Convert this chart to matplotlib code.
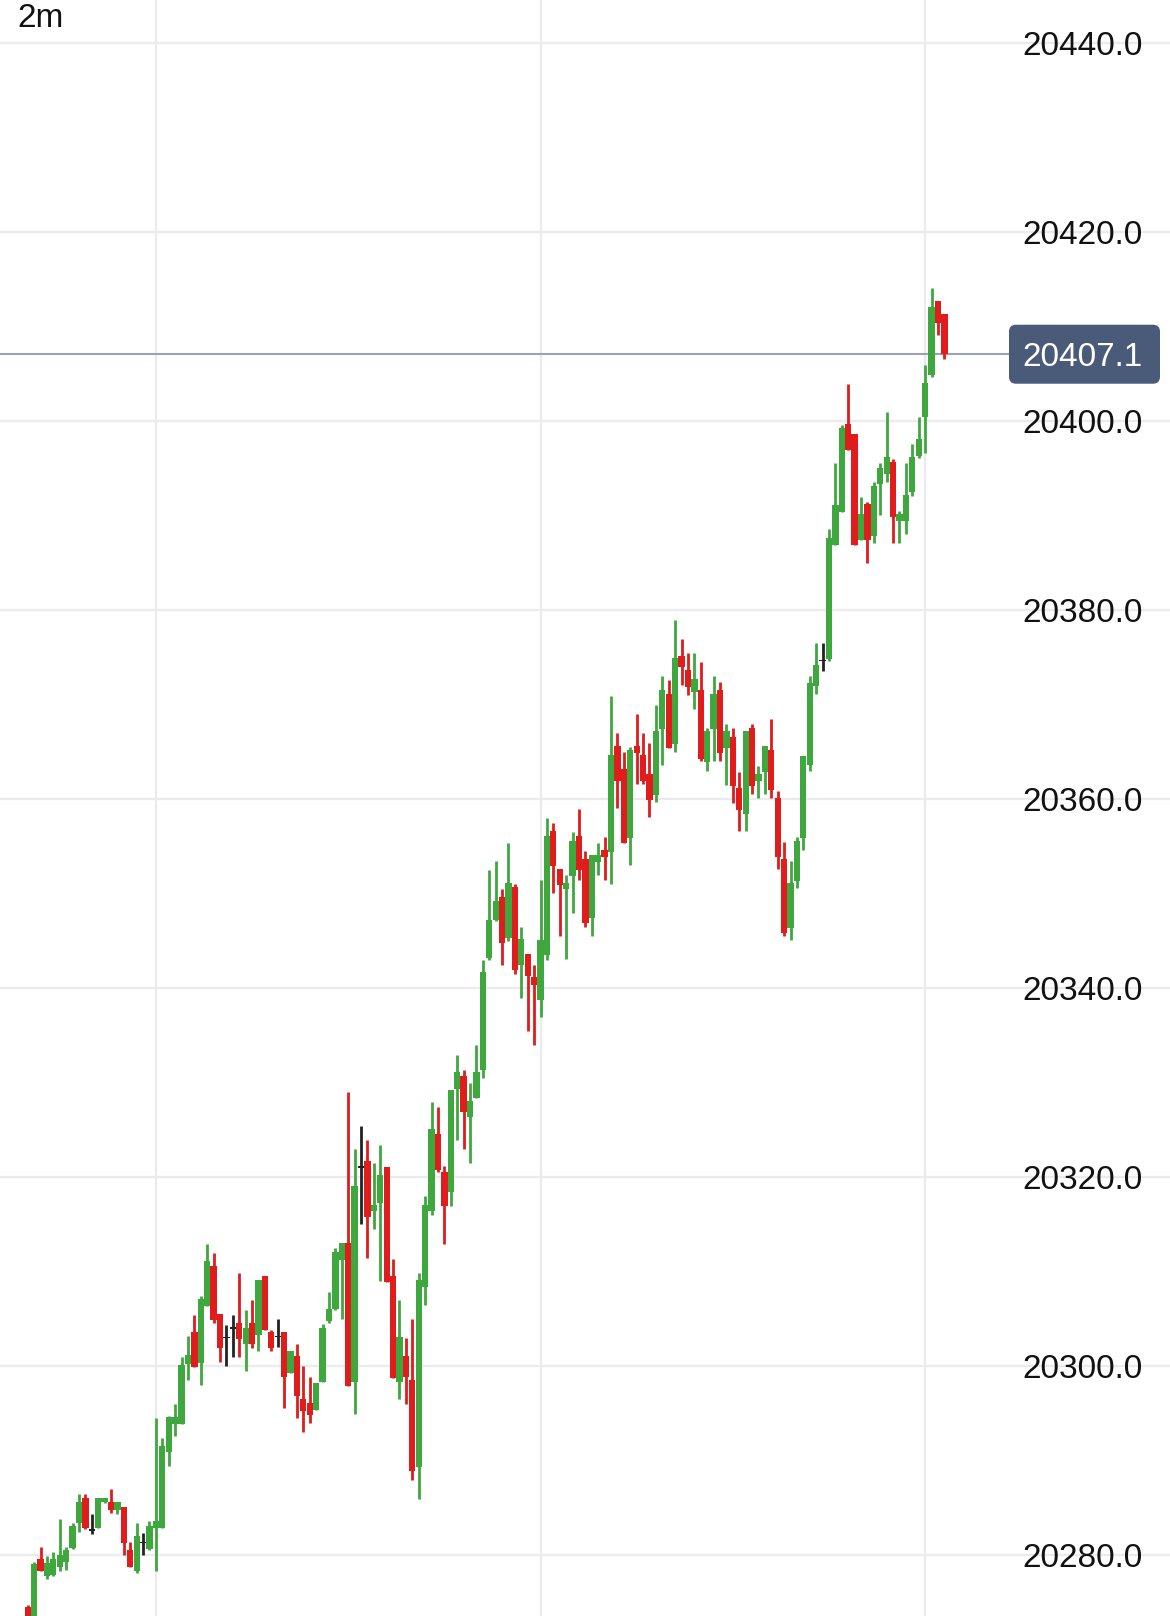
import matplotlib
matplotlib.use("Agg")
import numpy as np
import matplotlib.pyplot as plt
from matplotlib.transforms import blended_transform_factory
from matplotlib.patches import FancyBboxPatch

# ---------------- data (2-minute candles) ----------------
opens = [20274.5, 20272.0, 20279.6, 20277.8, 20277.9, 20278.8, 20279.3, 20280.8, 20283.4, 20286.1,
         20282.6, 20282.9, 20285.7, 20285.7, 20284.8, 20285.1, 20280.6, 20278.4, 20281.3, 20280.7,
         20282.9, 20282.9, 20290.9, 20293.9, 20293.9, 20300.3, 20303.6, 20300.4, 20306.4, 20310.6,
         20305.5, 20303.0, 20304.0, 20304.6, 20302.4, 20304.6, 20303.3, 20309.6, 20303.6, 20303.1,
         20303.6, 20299.3, 20301.1, 20296.6, 20296.1, 20295.4, 20298.4, 20304.8, 20306.1, 20311.3,
         20313.1, 20298.4, 20321.0, 20321.7, 20316.4, 20317.3, 20321.1, 20309.6, 20298.4, 20301.1,
         20298.6, 20289.4, 20308.4, 20316.4, 20324.6, 20320.6, 20318.5, 20329.4, 20330.7, 20326.4,
         20328.4, 20331.4, 20343.2, 20347.2, 20349.7, 20345.3, 20350.7, 20342.5, 20343.6, 20341.2,
         20338.8, 20343.5, 20356.7, 20352.6, 20350.5, 20351.9, 20356.1, 20353.7, 20347.4, 20353.4,
         20354.6, 20354.4, 20365.6, 20363.2, 20355.9, 20365.65, 20364.7, 20362.7, 20360.5, 20367.4,
         20371.2, 20365.9, 20375.2, 20373.7, 20371.4, 20371.6, 20363.9, 20367.4, 20371.6, 20365.4,
         20366.6, 20361.2, 20358.5, 20367.6, 20361.9, 20362.9, 20365.2, 20360.1, 20353.7, 20346.4,
         20351.4, 20355.9, 20363.6, 20372.0, 20374.6, 20374.8, 20386.9, 20390.4, 20399.7, 20398.7,
         20387.4, 20391.2, 20387.9, 20393.4, 20394.4, 20395.7, 20389.5, 20389.5, 20392.5, 20396.3,
         20400.5, 20404.9, 20412.7, 20411.4]
highs = [20274.8, 20279.3, 20280.9, 20279.9, 20280.4, 20283.9, 20280.9, 20283.4, 20286.5, 20286.5,
         20284.4, 20286.1, 20286.1, 20287.0, 20285.6, 20285.1, 20281.4, 20283.4, 20282.4, 20283.6,
         20294.5, 20292.4, 20294.7, 20296.0, 20301.0, 20303.2, 20305.4, 20307.4, 20313.0, 20312.0,
         20305.5, 20304.4, 20305.4, 20309.9, 20306.0, 20307.0, 20309.1, 20309.6, 20303.9, 20305.0,
         20303.6, 20301.6, 20302.4, 20300.0, 20298.9, 20298.2, 20304.5, 20307.9, 20312.5, 20313.1,
         20329.0, 20323.0, 20325.4, 20324.0, 20321.5, 20323.4, 20321.1, 20311.4, 20307.0, 20303.0,
         20305.0, 20309.9, 20318.0, 20328.0, 20327.5, 20321.2, 20329.2, 20332.9, 20331.4, 20330.0,
         20334.0, 20343.0, 20352.5, 20353.5, 20350.5, 20355.4, 20351.0, 20346.5, 20343.6, 20342.5,
         20351.5, 20358.0, 20357.5, 20352.6, 20352.0, 20356.5, 20359.0, 20354.5, 20354.1, 20355.4,
         20356.0, 20370.9, 20367.0, 20365.05, 20365.5, 20369.0, 20367.0, 20366.0, 20370.0, 20373.0,
         20372.6, 20379.0, 20377.0, 20375.5, 20375.5, 20374.5, 20367.5, 20373.05, 20372.45, 20368.0,
         20367.5, 20362.9, 20367.2, 20368.0, 20363.5, 20365.6, 20368.5, 20360.9, 20355.5, 20353.5,
         20356.0, 20364.6, 20373.1, 20376.5, 20376.5, 20388.6, 20395.6, 20399.6, 20404.0, 20398.7,
         20392.0, 20391.5, 20393.6, 20395.6, 20401.0, 20396.0, 20390.5, 20395.6, 20397.6, 20400.5,
         20405.95, 20414.1, 20412.7, 20411.4]
lows = [20271.5, 20271.0, 20278.3, 20277.5, 20277.8, 20278.4, 20278.5, 20280.7, 20282.5, 20282.8,
        20282.3, 20282.9, 20285.5, 20284.5, 20284.4, 20280.0, 20278.8, 20278.1, 20280.0, 20280.6,
        20278.4, 20282.9, 20289.5, 20292.6, 20293.9, 20298.6, 20299.9, 20298.0, 20306.4, 20304.6,
        20300.5, 20300.0, 20301.0, 20301.0, 20299.5, 20302.0, 20301.6, 20303.9, 20301.6, 20302.1,
        20295.6, 20299.3, 20294.5, 20293.1, 20294.0, 20295.4, 20298.4, 20304.6, 20306.0, 20305.0,
        20297.9, 20295.0, 20315.1, 20311.5, 20314.5, 20309.0, 20308.9, 20298.8, 20296.5, 20296.0,
        20288.0, 20286.0, 20306.5, 20316.0, 20320.6, 20313.0, 20317.0, 20324.0, 20323.0, 20321.5,
        20328.4, 20330.5, 20343.0, 20347.1, 20342.5, 20345.0, 20341.5, 20339.0, 20335.5, 20334.0,
        20337.0, 20343.0, 20350.1, 20345.5, 20343.1, 20348.0, 20351.5, 20346.5, 20345.5, 20352.0,
        20351.5, 20351.05, 20359.1, 20355.4, 20353.1, 20361.6, 20361.6, 20358.1, 20359.7, 20363.6,
        20365.4, 20365.05, 20372.1, 20371.0, 20369.6, 20364.1, 20363.0, 20364.1, 20364.1, 20361.5,
        20359.6, 20356.6, 20356.6, 20360.6, 20360.1, 20360.6, 20360.1, 20352.6, 20345.5, 20345.1,
        20350.6, 20354.6, 20363.0, 20371.2, 20373.6, 20374.6, 20386.9, 20390.4, 20397.0, 20386.9,
        20387.4, 20385.0, 20387.1, 20390.1, 20393.6, 20387.1, 20387.1, 20388.1, 20392.1, 20396.1,
        20396.6, 20404.7, 20409.1, 20406.6]
closes = [20272.5, 20279.1, 20278.4, 20279.15, 20279.6, 20280.0, 20280.6, 20283.1, 20285.6, 20282.9,
          20282.6, 20286.1, 20286.1, 20284.8, 20285.6, 20281.3, 20278.8, 20282.1, 20281.3, 20283.1,
          20283.6, 20291.6, 20294.6, 20294.6, 20300.1, 20301.2, 20299.9, 20307.1, 20311.1, 20304.9,
          20301.9, 20303.0, 20304.0, 20302.9, 20304.1, 20302.4, 20309.1, 20303.9, 20301.9, 20303.1,
          20298.9, 20301.6, 20296.9, 20295.3, 20294.9, 20298.2, 20304.1, 20306.1, 20312.1, 20313.1,
          20297.9, 20319.1, 20321.0, 20315.8, 20317.1, 20320.2, 20308.9, 20298.8, 20303.1, 20298.9,
          20288.9, 20309.1, 20317.1, 20325.1, 20320.8, 20317.0, 20329.2, 20331.2, 20326.9, 20328.1,
          20331.2, 20341.7, 20347.2, 20349.2, 20344.8, 20351.1, 20341.9, 20345.2, 20341.3, 20340.4,
          20345.1, 20356.1, 20352.9, 20350.9, 20351.1, 20355.6, 20352.5, 20346.9, 20354.1, 20354.1,
          20353.9, 20364.7, 20361.9, 20355.4, 20365.2, 20364.95, 20361.9, 20359.9, 20367.2, 20371.6,
          20365.4, 20375.0, 20374.0, 20371.9, 20372.7, 20364.3, 20367.2, 20371.1, 20364.9, 20367.2,
          20361.4, 20358.9, 20367.2, 20361.4, 20362.7, 20365.6, 20361.0, 20353.9, 20345.9, 20351.1,
          20355.6, 20364.6, 20372.3, 20374.2, 20374.6, 20387.7, 20391.1, 20399.3, 20397.0, 20386.9,
          20390.2, 20387.4, 20393.2, 20395.1, 20396.2, 20389.9, 20390.2, 20392.2, 20396.2, 20398.1,
          20404.1, 20412.1, 20410.4, 20407.1]

price_ticks = [20280, 20300, 20320, 20340, 20360, 20380, 20400, 20420, 20440]
time_grid_candles = [20, 80, 140]
timeframe = "2m"

# ---------------- styling ----------------
UP = "#3ea83e"
DOWN = "#e01c1c"
FLAT = "#222222"
GRID = "#ebebee"
FONT = ["Liberation Sans", "DejaVu Sans"]
FS = 24

o = np.array(opens); h = np.array(highs); l = np.array(lows); c = np.array(closes)
n = len(o)
x = np.arange(n)
cols = np.where(c > o, UP, np.where(c < o, DOWN, FLAT))

DPI = 100
fig = plt.figure(figsize=(11.7, 16.16), dpi=DPI)
ax = fig.add_axes([0, 0, 1, 1])
for s in ax.spines.values():
    s.set_visible(False)

ax.set_xlim(-4.32, 178.2)
ax.set_ylim(20273.59, 20444.58)

ax.set_yticks(price_ticks)
ax.set_xticks(time_grid_candles)
ax.tick_params(left=False, bottom=False, labelleft=False, labelbottom=False)
ax.set_axisbelow(True)
ax.grid(True, color=GRID, linewidth=1.7)

# wicks
ax.vlines(x, l, h, colors=cols, linewidth=2.0, zorder=3)
# bodies
bottom = np.minimum(o, c)
height = np.maximum(np.abs(c - o), 0.16)
ax.bar(x, height, bottom=bottom, width=0.98, color=cols, linewidth=0, zorder=4)

# last price line
last = closes[-1]
ax.axhline(last, xmin=0, xmax=1009 / 1170, color="#9aa3b4", linewidth=1.5, zorder=2)

# price labels on the right
tr = blended_transform_factory(ax.transAxes, ax.transData)
for t in price_ticks:
    ax.text(1022 / 1170, t, f"{t:.1f}", transform=tr, ha="left", va="center_baseline",
            fontsize=FS, color="#111111", family=FONT, zorder=5)

# last price badge
y_px = ax.transData.transform((0, last))[1]
bx0, bx1, bh = 1009, 1160, 59
badge = FancyBboxPatch(((bx0) / DPI, (y_px - bh / 2) / DPI), (bx1 - bx0) / DPI, bh / DPI,
                       boxstyle="round,pad=0,rounding_size=0.07", transform=fig.dpi_scale_trans,
                       fc="#4a5b7a", ec="none", zorder=6)
fig.add_artist(badge)
fig.text(1022.5 / 1170, y_px / 1616, f"{last:.1f}", ha="left", va="center_baseline",
         fontsize=FS, color="white", family=FONT, zorder=7)

ax.text(17 / 1170, 1 - 3 / 1616, timeframe, transform=ax.transAxes, ha="left", va="top",
        fontsize=FS, color="#111111", family=FONT, zorder=6)

fig.savefig("out.png", dpi=DPI)
